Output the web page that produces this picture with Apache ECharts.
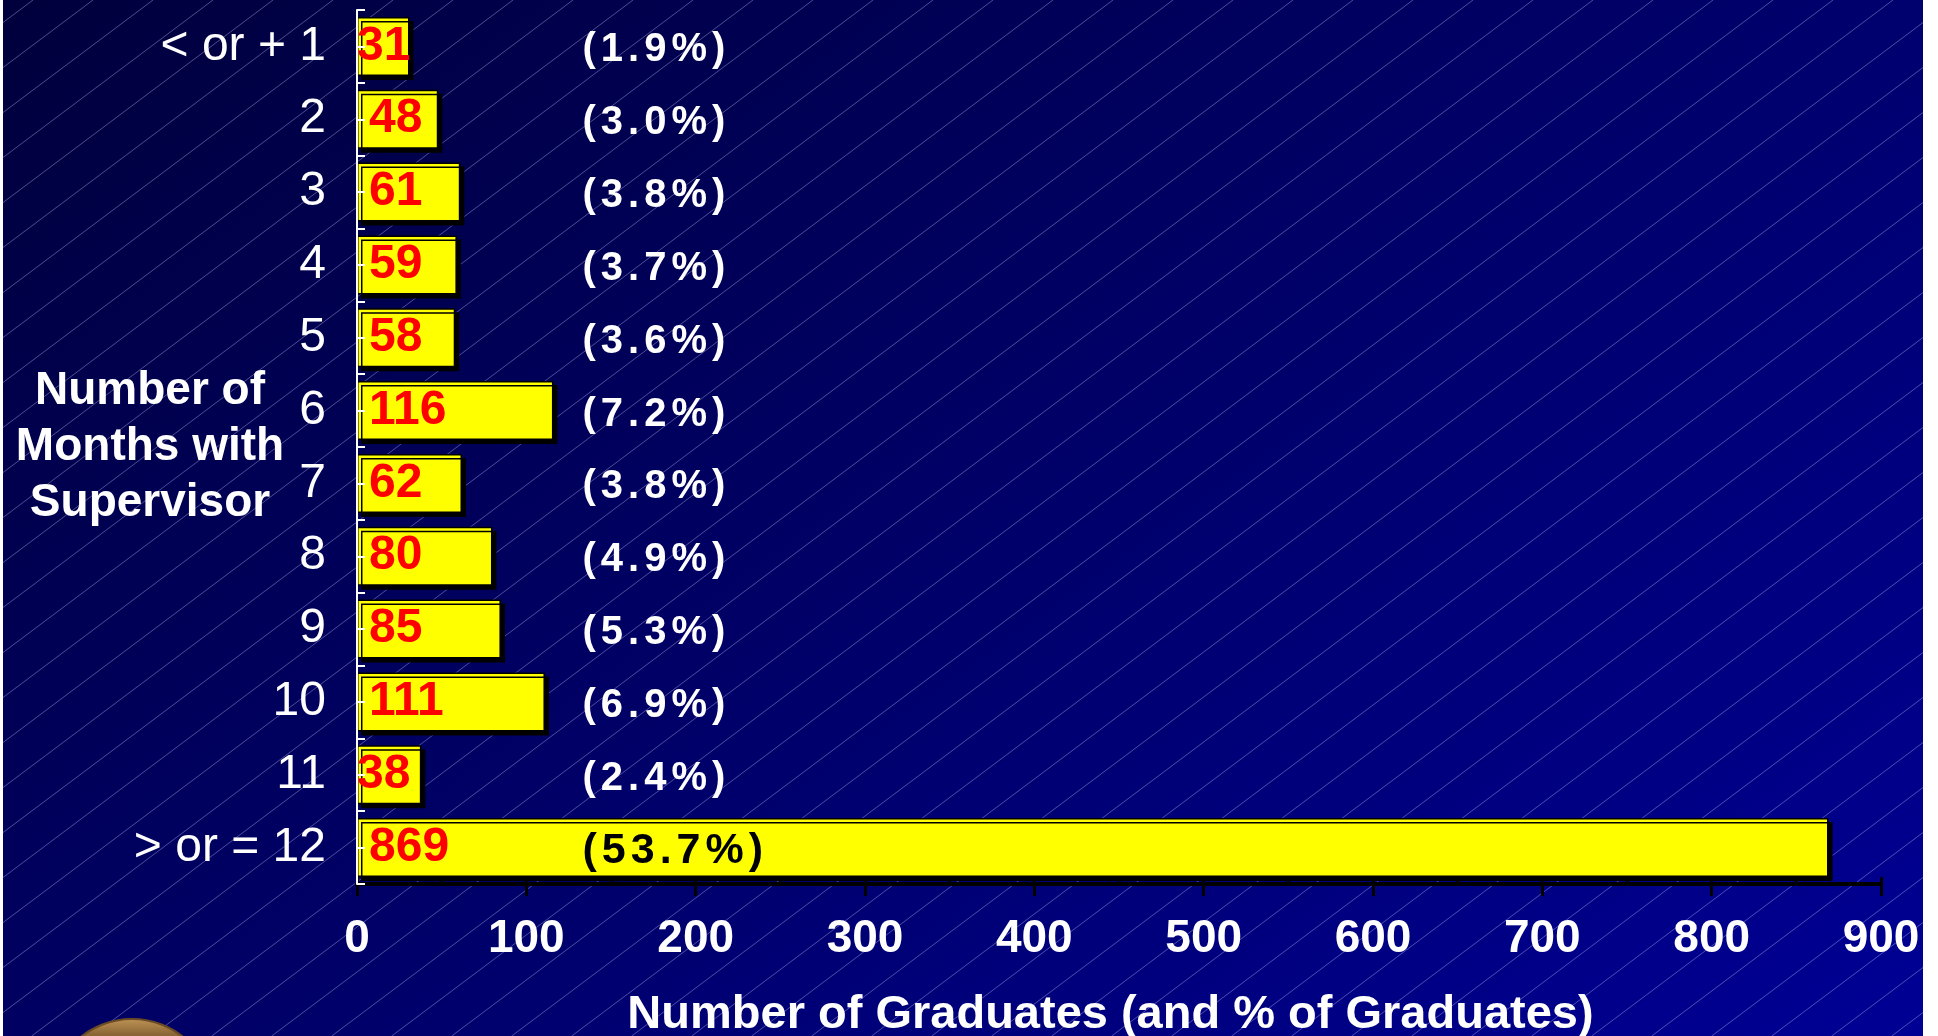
<!DOCTYPE html>
<html>
<head>
<meta charset="utf-8">
<title>Months with Supervisor</title>
<script src="https://cdn.jsdelivr.net/npm/echarts@6/dist/echarts.min.js"></script>
<style>
  html, body { margin: 0; padding: 0; background: #fff; overflow: hidden; }
  #bg { position: absolute; left: 3px; top: 0; }
  #chart { position: absolute; left: 0; top: 0; width: 1938px; height: 1036px; }
</style>
</head>
<body>
<canvas id="bg" width="1920" height="1036"></canvas>
<div id="chart"></div>
<script>
// data
const categories = ['< or + 1', '2', '3', '4', '5', '6', '7', '8', '9', '10', '11', '> or = 12']
const graduates = [31, 48, 61, 59, 58, 116, 62, 80, 85, 111, 38, 869]
const shares = ['1.9', '3.0', '3.8', '3.7', '3.6', '7.2', '3.8', '4.9', '5.3', '6.9', '2.4', '53.7']
const xMax = 900
const xStep = 100

const FONT = 'Liberation Sans, Arial, Helvetica, sans-serif'

// slide background: dark blue gradient with thin diagonal hatch
function drawBackground() {
  let cv = document.getElementById('bg')
  let ctx = cv.getContext('2d')
  let w = cv.width, h = cv.height
  let grad = ctx.createLinearGradient(0, 0, 1139, 1590)
  grad.addColorStop(0, '#00003c')
  grad.addColorStop(1, '#000094')
  ctx.fillStyle = grad
  ctx.fillRect(0, 0, w, h)
  ctx.strokeStyle = 'rgba(205,205,255,0.38)'
  ctx.lineWidth = 1
  let run = h / 0.75
  for (let c = 30; c < w + run; c += 60) {
    ctx.beginPath()
    ctx.moveTo(c, 0)
    ctx.lineTo(c - run, h)
    ctx.stroke()
  }
}
drawBackground()

// split text into single-char tokens so it can be letter-spaced
function spaced(text, style) {
  return text.split('').map(ch => '{' + style + '|' + ch + '}').join('')
}

let chart = echarts.init(document.getElementById('chart'))

let option = {
  backgroundColor: 'transparent',
  animation: false,
  textStyle: { fontFamily: FONT },
  grid: { left: 357, right: 57, top: 10, bottom: 152, containLabel: false, outerBoundsMode: 'none' },
  xAxis: [
    {
      type: 'value',
      min: 0,
      max: xMax,
      interval: xStep,
      axisLine: { show: true, lineStyle: { color: '#000', width: 4 } },
      axisTick: { show: true, length: 12, lineStyle: { color: '#000', width: 3 } },
      axisLabel: { color: '#fff', fontSize: 46, fontWeight: 'bold', fontFamily: FONT, margin: 32 },
      splitLine: { show: false },
      name: 'Number of Graduates (and % of Graduates)',
      nameLocation: 'middle',
      nameGap: 108,
      nameTextStyle: { color: '#fff', fontSize: 47, fontWeight: 'bold', fontFamily: FONT, padding: [0, 17, 0, 0] }
    },
    {
      // half-step ticks pointing up
      type: 'value',
      min: 0,
      max: xMax,
      interval: xStep / 2,
      position: 'bottom',
      axisLine: { show: false },
      axisTick: { show: true, inside: true, length: 7, lineStyle: { color: '#000', width: 3 } },
      axisLabel: { show: false },
      splitLine: { show: false }
    }
  ],
  yAxis: [
    {
      type: 'category',
      data: categories,
      inverse: true,
      z: 5,
      axisLine: { show: true, lineStyle: { color: '#fff', width: 2 } },
      axisTick: { show: true, inside: true, length: 8, lineStyle: { color: '#fff', width: 2 } },
      axisLabel: { color: '#fff', fontSize: 48, fontFamily: FONT, margin: 31, interval: 0, padding: [5, 0, 0, 0] },
      name: 'Number of\nMonths with\nSupervisor',
      nameLocation: 'middle',
      nameRotate: 0,
      nameGap: 207,
      nameMoveOverlap: false,
      nameTextStyle: {
        color: '#fff', fontSize: 46, fontWeight: 'bold', fontFamily: FONT,
        lineHeight: 56, align: 'center', verticalAlign: 'middle', padding: [13, 0, 0, 0]
      }
    },
    {
      // ticks at the middle of each row
      type: 'category',
      data: categories,
      inverse: true,
      position: 'left',
      z: 5,
      axisLine: { show: false },
      axisTick: { show: true, inside: true, alignWithLabel: true, length: 8, lineStyle: { color: '#fff', width: 2 } },
      axisLabel: { show: false }
    }
  ],
  series: [
    {
      type: 'bar',
      silent: true,
      barCategoryGap: '19%',
      data: graduates.map(v => ({ value: v, label: { distance: v < 45 ? 0 : 12 } })),
      itemStyle: {
        color: '#ffff00',
        borderColor: '#000',
        borderWidth: 1.5,
        shadowColor: '#000',
        shadowOffsetX: 4,
        shadowOffsetY: 4,
        shadowBlur: 0
      },
      label: {
        show: true,
        position: 'insideLeft',
        color: '#ff0000',
        fontSize: 48,
        fontWeight: 'bold',
        fontFamily: FONT,
        formatter: '{c}'
      },
      z: 2
    },
    {
      // invisible twin of the bars, only carries the percentage labels
      type: 'bar',
      silent: true,
      barGap: '-100%',
      barCategoryGap: '19%',
      data: graduates,
      itemStyle: { color: 'rgba(0,0,0,0)' },
      label: {
        show: true,
        position: [223, '50%'],
        offset: [0, 4],
        align: 'left',
        verticalAlign: 'middle',
        formatter: p => spaced('(' + shares[p.dataIndex] + '%)', graduates[p.dataIndex] > 300 ? 'k' : 'w'),
        rich: {
          w: { color: '#fff', fontSize: 40, fontWeight: 'bold', fontFamily: FONT, padding: [0, 2.5] },
          k: { color: '#000', fontSize: 43, fontWeight: 'bold', fontFamily: FONT, padding: [0, 2.5] }
        }
      },
      z: 3
    }
  ],
  graphic: [
    {
      // edge of the logo coin peeking in at the bottom left
      type: 'circle',
      silent: true,
      shape: { cx: 132, cy: 1101, r: 82 },
      style: {
        fill: {
          type: 'linear', x: 0, y: 0, x2: 0, y2: 1,
          colorStops: [
            { offset: 0, color: '#c09656' },
            { offset: 0.1, color: '#8a6535' },
            { offset: 1, color: '#5a3d1e' }
          ]
        },
        stroke: '#6b4a24',
        lineWidth: 2
      },
      z: 0
    }
  ]
}

chart.setOption(option)
</script>
</body>
</html>
